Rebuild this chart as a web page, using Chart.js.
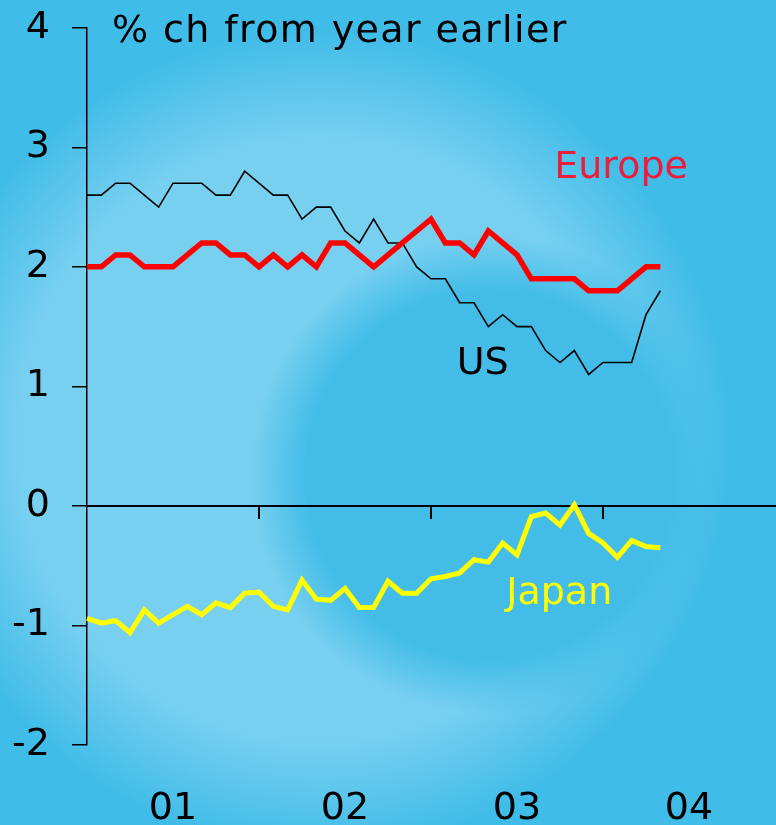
<!DOCTYPE html>
<html>
<head>
<meta charset="utf-8">
<script src="https://cdn.jsdelivr.net/npm/chart.js@4.4.1/dist/chart.umd.min.js"></script>
<style>
  html, body { margin: 0; padding: 0; }
  body {
    width: 776px; height: 825px; overflow: hidden; position: relative;
    background-color: #40bce8;
    background-image:
      radial-gradient(circle at 490px 475px, #43bde8 0px, #43bde8 185px, rgba(67,189,232,0) 240px),
      radial-gradient(circle at 320px 440px, #78d0f0 0px, #78d0f0 300px, rgba(120,208,240,0) 410px);
  }
  #wrap { position: absolute; left: 0; top: -17px; width: 776px; height: 842px; }
</style>
</head>
<body>
<div id="wrap"><canvas id="c" width="776" height="842"></canvas></div>
<script>
// month index 0 = Jan 2001
const months = Array.from({length: 41}, (_, i) => i);
const usValues = [2.6,2.6,2.7,2.7,2.6,2.5,2.7,2.7,2.7,2.6,2.6,2.8,2.7,2.6,2.6,2.4,2.5,2.5,2.3,2.2,2.4,2.2,2.2,2.0,1.9,1.9,1.7,1.7,1.5,1.6,1.5,1.5,1.3,1.2,1.3,1.1,1.2,1.2,1.2,1.6,1.8];
const europeValues = [2.0,2.0,2.1,2.1,2.0,2.0,2.0,2.1,2.2,2.2,2.1,2.1,2.0,2.1,2.0,2.1,2.0,2.2,2.2,2.1,2.0,2.1,2.2,2.3,2.4,2.2,2.2,2.1,2.3,2.2,2.1,1.9,1.9,1.9,1.9,1.8,1.8,1.8,1.9,2.0,2.0];
const japanValues = [-0.94,-0.98,-0.96,-1.06,-0.87,-0.98,-0.91,-0.84,-0.91,-0.81,-0.85,-0.73,-0.72,-0.84,-0.87,-0.62,-0.78,-0.79,-0.69,-0.85,-0.85,-0.63,-0.73,-0.73,-0.61,-0.59,-0.56,-0.45,-0.47,-0.31,-0.41,-0.09,-0.06,-0.16,0.01,-0.23,-0.31,-0.43,-0.29,-0.34,-0.35];
const yearLabels = ['01','02','03','04'];
const yearLabelPositions = [6, 18, 30, 42];
const yearBoundaries = [12, 24, 36];
const yTicks = [-2,-1,0,1,2,3,4];

const FONT = '"DejaVu Sans", sans-serif';

function pts(vals) { return vals.map((v, i) => ({x: months[i], y: v})); }

const textPlugin = {
  id: 'texts',
  afterDatasetsDraw(chart) {
    const {ctx, scales} = chart;
    const xs = scales.x, ys = scales.y;
    ctx.save();
    ctx.font = '38px ' + FONT;
    ctx.textBaseline = 'alphabetic';
    ctx.textAlign = 'left';
    const items = [
      {t: '% ch from year earlier', x: 1.74, y: 3.88, c: '#000000', ls: '1.4px'},
      {t: 'Europe', x: 32.6, y: 2.745, c: '#ee1c3c', ls: '0px'},
      {t: 'US', x: 25.8, y: 1.102, c: '#000000', ls: '0px'},
      {t: 'Japan', x: 29.25, y: -0.82, c: '#ffff00', ls: '0px'}
    ];
    items.forEach(it => {
      ctx.fillStyle = it.c;
      ctx.letterSpacing = it.ls;
      ctx.fillText(it.t, xs.getPixelForValue(it.x), ys.getPixelForValue(it.y));
    });
    ctx.restore();
  }
};

new Chart(document.getElementById('c'), {
  type: 'line',
  data: {
    datasets: [
      {label: 'Europe', data: pts(europeValues), borderColor: '#ff0000', borderWidth: 5.5, order: 0},
      {label: 'Japan', data: pts(japanValues), borderColor: '#ffff00', borderWidth: 5, order: 1},
      {label: 'US', data: pts(usValues), borderColor: '#000000', borderWidth: 1.6, order: 2}
    ]
  },
  options: {
    responsive: false,
    animation: false,
    events: [],
    layout: {padding: {left: 0, right: 1, top: 11, bottom: 0}},
    elements: {
      line: {tension: 0, borderJoinStyle: 'miter', borderCapStyle: 'butt'},
      point: {radius: 0}
    },
    datasets: {line: {clip: false, fill: false}},
    plugins: {legend: {display: false}, tooltip: {enabled: false}, title: {display: false}},
    scales: {
      x: {
        type: 'linear', min: 0, max: 48, position: 'bottom',
        grid: {display: false},
        border: {display: false},
        afterBuildTicks(s) { s.ticks = yearLabelPositions.map(v => ({value: v})); },
        afterFit(s) { s.height = 80; },
        ticks: {
          autoSkip: false, maxRotation: 0, padding: 33,
          color: '#000', font: {family: FONT, size: 38},
          callback(v) { const i = yearLabelPositions.indexOf(v); return i >= 0 ? yearLabels[i] : ''; }
        }
      },
      x0: {
        type: 'linear', min: 0, max: 48, position: {y: 0}, axis: 'x',
        grid: {drawOnChartArea: false, drawTicks: true, tickLength: 12, color: '#000', lineWidth: 2},
        border: {display: true, color: '#000', width: 2},
        afterBuildTicks(s) { s.ticks = yearBoundaries.map(v => ({value: v})); },
        ticks: {display: false}
      },
      y: {
        type: 'linear', min: -2, max: 4, position: 'left',
        grid: {drawOnChartArea: false, drawTicks: true, tickLength: 15, color: '#000', lineWidth: 1.5},
        border: {display: true, color: '#000', width: 1.5},
        afterBuildTicks(s) { s.ticks = yTicks.map(v => ({value: v})); },
        afterFit(s) { s.width = 87; },
        ticks: {color: '#000', font: {family: FONT, size: 38}, padding: 22, callback: v => String(v)}
      }
    }
  },
  plugins: [textPlugin]
});
</script>
</body>
</html>
